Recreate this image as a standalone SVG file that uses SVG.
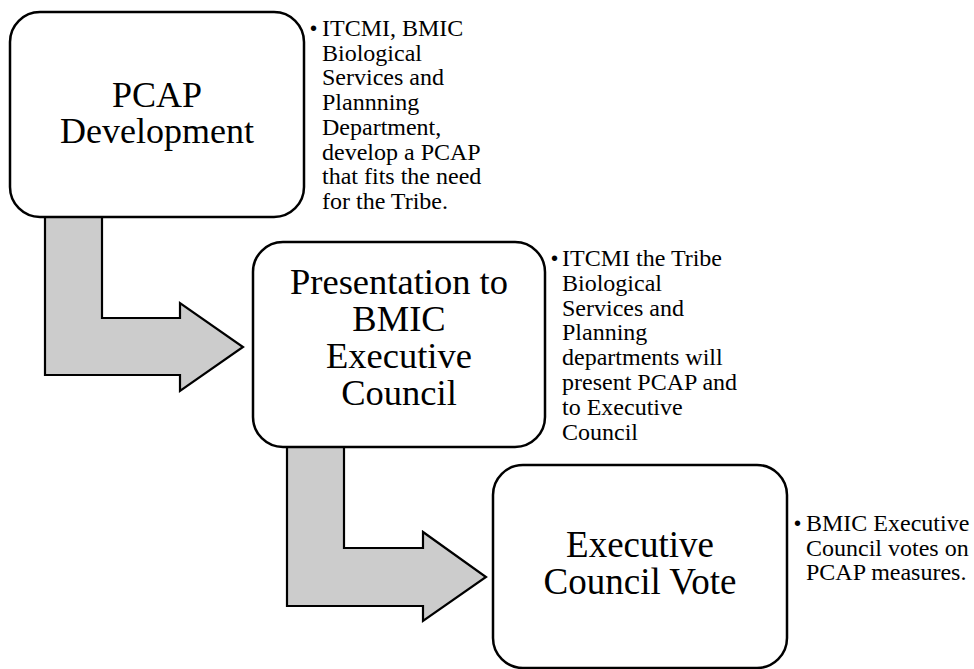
<svg xmlns="http://www.w3.org/2000/svg" width="974" height="669" viewBox="0 0 974 669">
<style>
.box{fill:#fff;stroke:#000;stroke-width:2.5}
.arr{fill:#cccccc;stroke:#000;stroke-width:2.2;stroke-linejoin:miter}
text{font-family:'Liberation Serif',Tinos,'Times New Roman',Times,serif;fill:#000}
.big{font-size:36px;text-anchor:middle}
.sm{font-size:24px}
.bul{font-family:'Liberation Sans',Arial,sans-serif;font-size:20px}
</style>
<rect width="974" height="669" fill="#fff"/>
<g id="connectors">
<path class="arr" d="M45,217 L102,217 L102,318 L180,318 L180,303 L243,347 L180,391 L180,375 L45,375 Z"/>
<path class="arr" d="M287,447 L344,447 L344,548 L423,548 L423,532 L486,577 L423,621 L423,606 L287,606 Z"/>
</g>
<g id="node1">
<rect class="box" x="10" y="12" width="294" height="205" rx="30"/>
<text class="big"><tspan x="157" y="107">PCAP</tspan><tspan x="157" y="143">Development</tspan></text>
<text class="bul" x="310" y="35">•</text>
<text class="sm"><tspan x="322" y="36">ITCMI, BMIC</tspan><tspan x="322" y="60.7">Biological</tspan><tspan x="322" y="85.4">Services and</tspan><tspan x="322" y="110.1">Plannning</tspan><tspan x="322" y="134.8">Department,</tspan><tspan x="322" y="159.5">develop a PCAP</tspan><tspan x="322" y="184.2">that fits the need</tspan><tspan x="322" y="208.9">for the Tribe.</tspan></text>
</g>
<g id="node2">
<rect class="box" x="253" y="242" width="292" height="205" rx="30"/>
<text class="big" style="font-size:36.5px"><tspan x="399" y="294">Presentation to</tspan><tspan x="399" y="331">BMIC</tspan><tspan x="399" y="368">Executive</tspan><tspan x="399" y="405">Council</tspan></text>
<text class="bul" x="551" y="265">•</text>
<text class="sm"><tspan x="562" y="266">ITCMI the Tribe</tspan><tspan x="562" y="290.8">Biological</tspan><tspan x="562" y="315.6">Services  and</tspan><tspan x="562" y="340.4">Planning</tspan><tspan x="562" y="365.2">departments will</tspan><tspan x="562" y="390">present PCAP and</tspan><tspan x="562" y="414.8">to Executive</tspan><tspan x="562" y="439.6">Council</tspan></text>
</g>
<g id="node3">
<rect class="box" x="493" y="465" width="294" height="203" rx="30"/>
<text class="big" style="font-size:37px"><tspan x="640" y="557">Executive</tspan><tspan x="640" y="594">Council Vote</tspan></text>
<text class="bul" x="794" y="530">•</text>
<text class="sm"><tspan x="806" y="531">BMIC Executive</tspan><tspan x="806" y="555.5">Council votes on</tspan><tspan x="806" y="580">PCAP measures.</tspan></text>
</g>
</svg>
